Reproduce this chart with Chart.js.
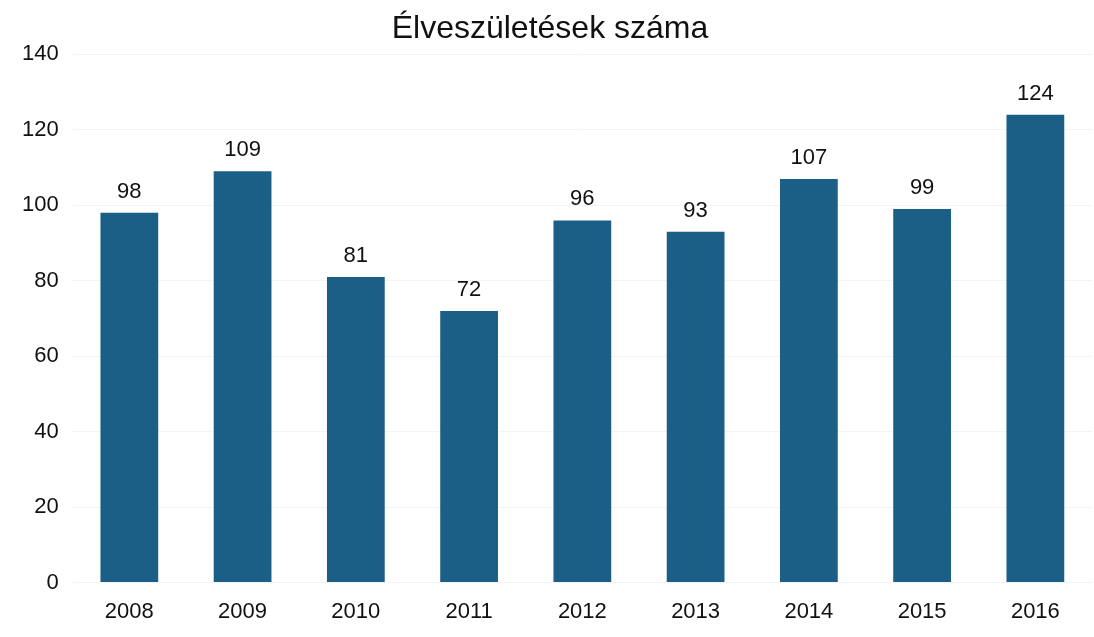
<!DOCTYPE html>
<html>
<head>
<meta charset="utf-8">
<script src="https://cdn.jsdelivr.net/npm/chart.js@4"></script>
<style>
  html, body { margin: 0; padding: 0; background: #fff; }
  #wrap { width: 1094px; height: 637px; }
</style>
</head>
<body>
<div id="wrap"><canvas id="grafico"></canvas></div>
<script>
const evek = ['2008', '2009', '2010', '2011', '2012', '2013', '2014', '2015', '2016'];
const szuletesek = [98, 109, 81, 72, 96, 93, 107, 99, 124];
const yTicks = [0, 20, 40, 60, 80, 100, 120, 140];

// felirat az oszlopok fölé
const ertekFelirat = {
    id: 'ertekFelirat',
    afterDatasetsDraw(chart) {
        const ctx = chart.ctx;
        const meta = chart.getDatasetMeta(0);
        ctx.save();
        ctx.font = '22px "Liberation Sans", Arial, sans-serif';
        ctx.fillStyle = '#111';
        ctx.textAlign = 'center';
        ctx.textBaseline = 'bottom';
        meta.data.forEach((bar, i) => {
            ctx.fillText(szuletesek[i], bar.x, bar.y - 10);
        });
        ctx.restore();
    }
};

const ctx = document.getElementById('grafico').getContext('2d');
new Chart(ctx, {
    type: 'bar',
    data: {
        labels: evek,
        datasets: [{
            label: 'Élveszületések száma',
            data: szuletesek,
            backgroundColor: '#1b5e86',
            borderWidth: 0,
            barPercentage: 0.51,
            categoryPercentage: 1.0
        }]
    },
    options: {
        responsive: true,
        maintainAspectRatio: false,
        animation: false,
        layout: { padding: { left: 8, right: 2, top: 0, bottom: 4 } },
        plugins: {
            legend: { display: false },
            tooltip: { enabled: false },
            title: {
                display: true,
                text: 'Élveszületések száma',
                color: '#111',
                font: { family: '"Liberation Sans", Arial, sans-serif', size: 32, weight: 'normal' },
                padding: { top: 10, bottom: 6 }
            }
        },
        scales: {
            x: {
                grid: { display: false },
                border: { display: false },
                ticks: {
                    color: '#111',
                    font: { family: '"Liberation Sans", Arial, sans-serif', size: 22 },
                    padding: 8
                }
            },
            y: {
                min: 0,
                max: 140,
                afterBuildTicks: axis => { axis.ticks = yTicks.map(v => ({ value: v })); },
                grid: { color: '#f4f4f4', drawTicks: false },
                border: { display: false },
                ticks: {
                    color: '#111',
                    font: { family: '"Liberation Sans", Arial, sans-serif', size: 22 },
                    padding: 14
                }
            }
        }
    },
    plugins: [ertekFelirat]
});
</script>
</body>
</html>
